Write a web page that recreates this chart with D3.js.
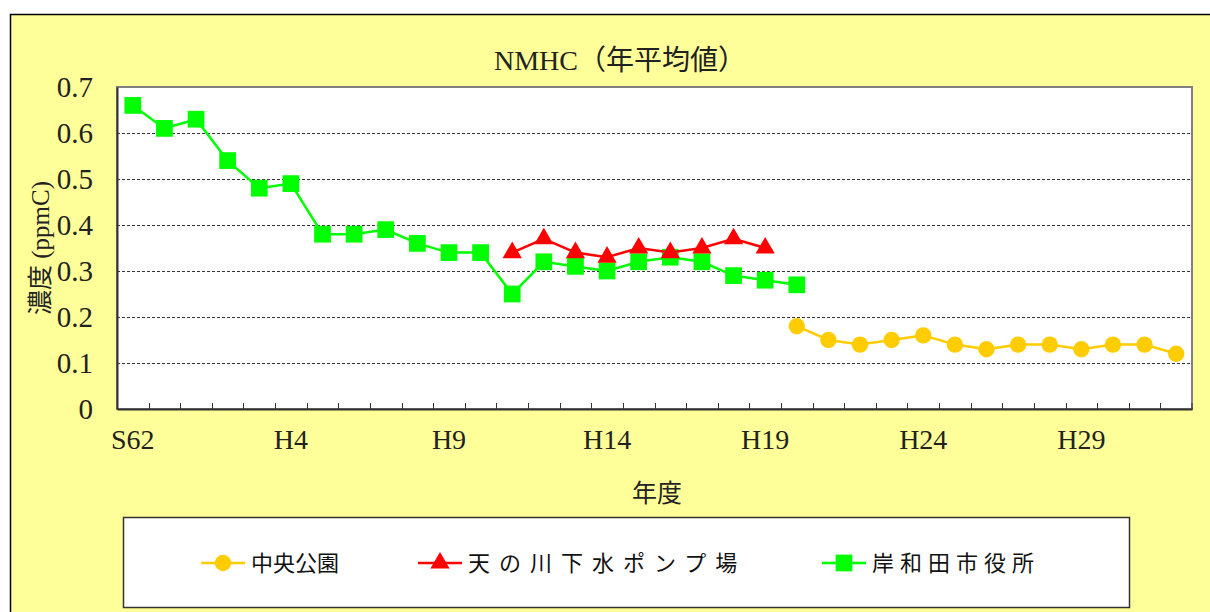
<!DOCTYPE html>
<html>
<head>
<meta charset="utf-8">
<script src="https://cdn.jsdelivr.net/npm/d3@7"></script>
<style>
  body { margin: 0; background: #fff; }
  svg { display: block; }
</style>
</head>
<body>
<svg id="chart"></svg>
<script>
'use strict';

var years = ['S62', 'S63'];
for (var n = 1; n <= 32; n++) years.push('H' + n);

var label_years = ['S62', 'H4', 'H9', 'H14', 'H19', 'H24', 'H29'];
var y_ticks = [0, 0.1, 0.2, 0.3, 0.4, 0.5, 0.6, 0.7];

// 岸和田市役所 S62 - H20
var kishiwada_start = 'S62';
var kishiwada = [0.66, 0.61, 0.63, 0.54, 0.48, 0.49, 0.38, 0.38, 0.39, 0.36, 0.34, 0.34,
                 0.25, 0.32, 0.31, 0.30, 0.32, 0.33, 0.32, 0.29, 0.28, 0.27];
// 天の川下水ポンプ場 H11 - H19
var amanogawa_start = 'H11';
var amanogawa = [0.34, 0.37, 0.34, 0.33, 0.35, 0.34, 0.35, 0.37, 0.35];
// 中央公園 H20 - H32
var chuo_start = 'H20';
var chuo = [0.18, 0.15, 0.14, 0.15, 0.16, 0.14, 0.13, 0.14, 0.14, 0.13, 0.14, 0.14, 0.12];

var width = 1210, height = 612;
var plot = { left: 117, top: 87, right: 1192, bottom: 409 };
var serif = '"Liberation Serif", "Times New Roman", "Noto Sans CJK JP", serif';
var sans = '"Noto Sans CJK JP", sans-serif';

var svg = d3.select('#chart').attr('width', width).attr('height', height);

// background frame
svg.append('rect').attr('x', 10.5).attr('y', 14.5).attr('width', width).attr('height', height)
    .attr('fill', '#ffff99').attr('stroke', '#000').attr('stroke-width', 1.5);

var x = d3.scaleBand().domain(years).range([plot.left, plot.right]).paddingInner(0).paddingOuter(0);
var y = d3.scaleLinear().domain([0, 0.7]).range([plot.bottom, plot.top]);
var cx = function (d) { return x(d) + x.bandwidth() / 2; };

svg.append('rect').attr('x', plot.left).attr('y', plot.top)
    .attr('width', plot.right - plot.left).attr('height', plot.bottom - plot.top)
    .attr('fill', '#fff').attr('stroke', '#808080').attr('stroke-width', 2);

// gridlines
svg.append('g').selectAll('line').data(y_ticks.filter(function (d) { return d > 0 && d < 0.7; }))
    .enter().append('line')
    .attr('x1', plot.left).attr('x2', plot.right)
    .attr('y1', function (d) { return Math.round(y(d)) + 0.5; })
    .attr('y2', function (d) { return Math.round(y(d)) + 0.5; })
    .attr('stroke', '#333').attr('stroke-width', 1).attr('stroke-dasharray', '3,2');

// y axis
var y_axis = svg.append('g').attr('transform', 'translate(' + plot.left + ',0)')
    .call(d3.axisLeft(y).tickValues(y_ticks).tickSize(0).tickPadding(24)
        .tickFormat(function (d) { return d === 0 ? '0' : d3.format('.1f')(d); }));
y_axis.select('.domain').attr('stroke', '#333').attr('stroke-width', 2);
y_axis.selectAll('text').style('font-family', serif).style('font-size', '29px').attr('fill', '#222');

// x axis
var x_axis = svg.append('g').attr('transform', 'translate(0,' + plot.bottom + ')')
    .call(d3.axisBottom(x).tickValues(label_years).tickSize(0).tickPadding(20));
x_axis.select('.domain').attr('stroke', '#333').attr('stroke-width', 2);
x_axis.selectAll('text').style('font-family', serif).style('font-size', '28px').attr('fill', '#222');

// inner ticks at category boundaries
svg.append('g').selectAll('line').data(years.slice(1).concat(['end'])).enter().append('line')
    .attr('x1', function (d) { return d === 'end' ? plot.right : Math.round(x(d)) + 0.5; })
    .attr('x2', function (d) { return d === 'end' ? plot.right : Math.round(x(d)) + 0.5; })
    .attr('y1', plot.bottom).attr('y2', plot.bottom - 6)
    .attr('stroke', '#333').attr('stroke-width', 1);

// titles
svg.append('text').attr('x', 620).attr('y', 70).attr('text-anchor', 'middle')
    .style('font-family', serif).style('font-size', '28px').attr('fill', '#222')
    .text('NMHC（年平均値）');
svg.append('text').attr('x', 657).attr('y', 502).attr('text-anchor', 'middle')
    .style('font-family', serif).style('font-size', '25px').attr('fill', '#222')
    .text('年度');
svg.append('text').attr('transform', 'translate(49,' + ((plot.top + plot.bottom) / 2) + ') rotate(-90)')
    .attr('text-anchor', 'middle')
    .style('font-family', serif).style('font-size', '25px').attr('fill', '#222')
    .text('濃度 (ppmC)');

var series = [
    { name: '中央公園', values: chuo, start: chuo_start, color: '#ffcc00', symbol: d3.symbolCircle, size: 210 },
    { name: '天の川下水ポンプ場', values: amanogawa, start: amanogawa_start, color: '#ff0000', symbol: d3.symbolTriangle, size: 160 },
    { name: '岸和田市役所', values: kishiwada, start: kishiwada_start, color: '#00ff00', symbol: d3.symbolSquare, size: 280 }
];

var line = d3.line().x(function (d) { return cx(d.year); }).y(function (d) { return y(d.value); });

// green first, then red, then orange on top
[series[2], series[1], series[0]].forEach(function (s) {
    var offset = years.indexOf(s.start);
    var pts = s.values.map(function (v, i) { return { year: years[offset + i], value: v }; });
    var g = svg.append('g');
    g.append('path').datum(pts).attr('d', line).attr('fill', 'none')
        .attr('stroke', s.color).attr('stroke-width', 2.5);
    g.selectAll('path.pt').data(pts).enter().append('path').attr('class', 'pt')
        .attr('transform', function (d) { return 'translate(' + cx(d.year) + ',' + y(d.value) + ')'; })
        .attr('d', d3.symbol().type(s.symbol).size(s.size)).attr('fill', s.color);
});

// legend
var legend = { left: 123, top: 517, right: 1129, bottom: 607 };
svg.append('rect').attr('x', legend.left + 0.5).attr('y', legend.top + 0.5)
    .attr('width', legend.right - legend.left).attr('height', legend.bottom - legend.top)
    .attr('fill', '#fff').attr('stroke', '#333').attr('stroke-width', 1.5);

var legend_x = [201, 418, 822];
var legend_spacing = [0, 9, 6];
var legend_y = 563;
series.forEach(function (s, i) {
    var g = svg.append('g').attr('transform', 'translate(' + legend_x[i] + ',' + legend_y + ')');
    g.append('line').attr('x1', 0).attr('x2', 44).attr('y1', 0).attr('y2', 0)
        .attr('stroke', s.color).attr('stroke-width', 2.5);
    g.append('path').attr('transform', 'translate(22,0)')
        .attr('d', d3.symbol().type(s.symbol).size(s.size)).attr('fill', s.color);
    g.append('text').attr('x', 50).attr('y', 8)
        .style('font-family', sans).style('font-size', '22px')
        .style('letter-spacing', legend_spacing[i] + 'px').attr('fill', '#111')
        .text(s.name);
});
</script>
</body>
</html>
